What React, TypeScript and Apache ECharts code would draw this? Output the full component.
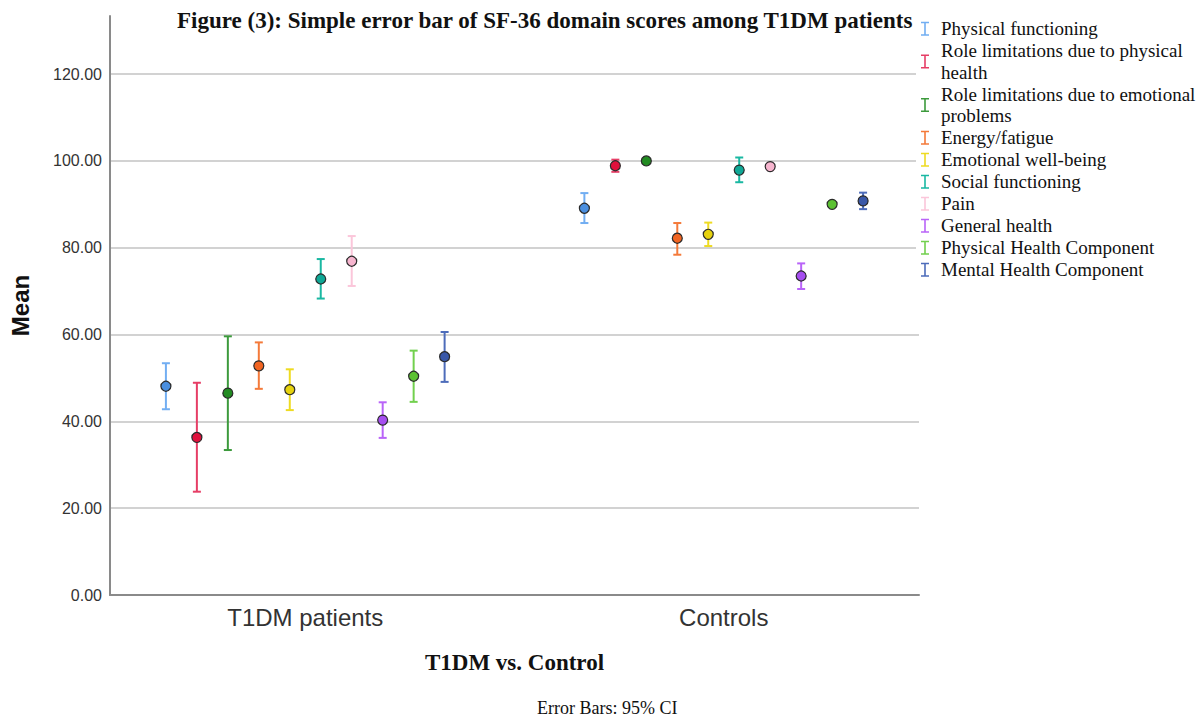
import React, { useEffect, useRef } from "react";
import * as echarts from "echarts";

const groups = ["T1DM patients", "Controls"];
const domains = [
  "Physical functioning",
  "Role limitations due to physical health",
  "Role limitations due to emotional problems",
  "Energy/fatigue",
  "Emotional well-being",
  "Social functioning",
  "Pain",
  "General health",
  "Physical Health Component",
  "Mental Health Component",
];
const legendLabels = [
  "Physical functioning",
  "Role limitations due to physical\nhealth",
  "Role limitations due to emotional\nproblems",
  "Energy/fatigue",
  "Emotional well-being",
  "Social functioning",
  "Pain",
  "General health",
  "Physical Health Component",
  "Mental Health Component",
];
const t1dmMean = [48.1, 36.3, 46.5, 52.8, 47.3, 72.8, 76.9, 40.3, 50.4, 54.9];
const t1dmLow = [42.8, 23.8, 33.4, 47.5, 42.6, 68.3, 71.2, 36.2, 44.5, 49.1];
const t1dmHigh = [53.4, 48.9, 59.6, 58.2, 52.0, 77.4, 82.7, 44.4, 56.3, 60.6];
const ctrlMean = [89.1, 98.9, 100.0, 82.2, 83.1, 97.9, 98.7, 73.5, 90.0, 90.8];
const ctrlLow = [85.7, 97.5, 100.0, 78.4, 80.4, 95.1, 97.9, 70.5, 89.4, 88.9];
const ctrlHigh = [92.6, 100.3, 100.0, 85.7, 85.8, 100.8, 99.5, 76.4, 90.7, 92.7];
const yTicks = [0, 20, 40, 60, 80, 100, 120];

const barColors = ["#72aef2", "#e63e66", "#3c9a3c", "#f47a3a", "#eedb22", "#1ab8a2", "#fbc6da", "#b964f8", "#72d04e", "#4d6cba"];
const markerColors = ["#4a8fe0", "#e0103c", "#228b22", "#f26522", "#e6d20e", "#0fa896", "#f7b5cf", "#a64ef0", "#5cc232", "#3a58a8"];

const SANS = "'Liberation Sans', Arial, sans-serif";
const SERIF = "'Liberation Serif', 'Times New Roman', serif";
const OFFSET = 0.074;

export default function App() {
  const ref = useRef<HTMLDivElement>(null);
  useEffect(() => {
    if (!ref.current) return;
    const chart = echarts.init(ref.current, null, { renderer: "svg" });
    const series = domains.map((name, i) => {
      const dx = (i - 4.5) * OFFSET;
      return {
        name,
        type: "custom",
        itemStyle: { color: barColors[i] },
        encode: { x: 0, y: 1 },
        data: [
          [0 + dx, t1dmMean[i], t1dmLow[i], t1dmHigh[i]],
          [1 + dx, ctrlMean[i], ctrlLow[i], ctrlHigh[i]],
        ],
        renderItem: (params: any, api: any) => {
          const x = api.value(0);
          const pm = api.coord([x, api.value(1)]);
          const pl = api.coord([x, api.value(2)]);
          const ph = api.coord([x, api.value(3)]);
          const ls = { stroke: barColors[i], lineWidth: 2 };
          return {
            type: "group",
            children: [
              { type: "line", shape: { x1: pl[0], y1: pl[1], x2: ph[0], y2: ph[1] }, style: ls },
              { type: "line", shape: { x1: pl[0] - 4, y1: pl[1], x2: pl[0] + 4, y2: pl[1] }, style: ls },
              { type: "line", shape: { x1: ph[0] - 4, y1: ph[1], x2: ph[0] + 4, y2: ph[1] }, style: ls },
              {
                type: "circle",
                shape: { cx: pm[0], cy: pm[1], r: 5 },
                style: { fill: markerColors[i], stroke: "#2a2a2a", lineWidth: 1.2 },
              },
            ],
          };
        },
      };
    });
    chart.setOption({
      animation: false,
      backgroundColor: "#ffffff",
      title: {
        text: "Figure (3): Simple error bar of SF-36 domain scores among T1DM patients and controls",
        left: 177,
        top: 9,
        padding: 0,
        textStyle: {
          fontFamily: SERIF,
          fontWeight: "bold",
          fontSize: 23,
          color: "#111",
          width: 740,
          overflow: "truncate",
          ellipsis: "",
        },
      },
      legend: {
        orient: "vertical",
        left: 916,
        top: 13,
        z: 20,
        backgroundColor: "#ffffff",
        padding: [5, 10, 5, 5],
        itemGap: 0.5,
        itemWidth: 8,
        itemHeight: 14,
        icon: "path://M0,0H8V1.6H4.8V12.4H8V14H0V12.4H3.2V1.6H0Z",
        data: domains,
        formatter: (n: string) => legendLabels[domains.indexOf(n)],
        textStyle: { fontFamily: SERIF, fontSize: 19, color: "#111", lineHeight: 21.5, padding: [0, 0, 0, 7] },
      },
      grid: { left: 109, right: 281, top: 16, bottom: 122, containLabel: false },
      xAxis: {
        type: "value",
        min: -0.4666,
        max: 1.4666,
        name: "T1DM vs. Control",
        nameLocation: "middle",
        nameGap: 56,
        nameTextStyle: { fontFamily: SERIF, fontWeight: "bold", fontSize: 23, color: "#111" },
        axisLine: { show: true, onZero: false, lineStyle: { color: "#8a8a8a", width: 2 } },
        axisTick: { show: false },
        splitLine: { show: false },
        axisLabel: {
          customValues: [0, 1],
          formatter: (v: number) => groups[Math.round(v)],
          fontFamily: SANS,
          fontSize: 24,
          color: "#333",
          margin: 10,
        },
      },
      yAxis: {
        type: "value",
        min: 0,
        max: 133.4,
        interval: 20,
        name: "Mean",
        nameLocation: "middle",
        nameGap: 78,
        nameTextStyle: { fontFamily: SANS, fontWeight: "bold", fontSize: 24, color: "#111" },
        axisLine: { show: true, onZero: false, lineStyle: { color: "#8a8a8a", width: 2 } },
        axisTick: { show: false },
        splitLine: { show: true, showMinLine: false, showMaxLine: false, lineStyle: { color: "#d2d2d2", width: 2 } },
        axisLabel: {
          customValues: yTicks,
          formatter: (v: number) => v.toFixed(2),
          fontFamily: SANS,
          fontSize: 16,
          color: "#333",
          margin: 8,
        },
      },
      graphic: [
        {
          type: "text",
          left: 537,
          top: 699,
          style: { text: "Error Bars: 95% CI", fontFamily: SERIF, fontSize: 18, fill: "#111" },
        },
      ],
      series,
    } as any);
    return () => chart.dispose();
  }, []);
  return <div ref={ref} style={{ position: "absolute", left: 0, top: 0, width: 1200, height: 717 }} />;
}
